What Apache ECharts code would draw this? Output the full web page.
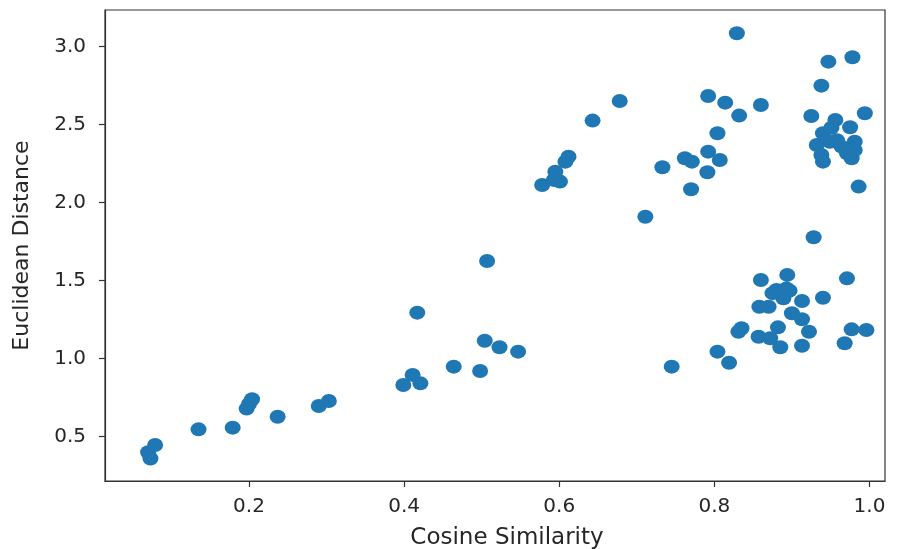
<!DOCTYPE html>
<html>
<head>
<meta charset="utf-8">
<script src="https://cdn.jsdelivr.net/npm/echarts@6/dist/echarts.min.js"></script>
<style>
  html, body { margin: 0; padding: 0; background: #fff; }
  #main { width: 900px; height: 549px; }
</style>
</head>
<body>
<div id="main"></div>
<script>
// cosine similarity (x) and euclidean distance (y)
var cosineSim = [
  0.070, 0.073, 0.079, 0.135, 0.179, 0.197, 0.200, 0.204, 0.237, 0.290,
  0.303, 0.399, 0.411, 0.421, 0.417, 0.464, 0.498, 0.504, 0.507, 0.523,
  0.547, 0.578, 0.593, 0.601, 0.595, 0.608, 0.612, 0.643, 0.678, 0.711,
  0.733, 0.745, 0.762, 0.771, 0.770, 0.792, 0.814, 0.832, 0.860, 0.804,
  0.792, 0.807, 0.791, 0.829, 0.947, 0.978, 0.938, 0.925, 0.994, 0.956,
  0.975, 0.940, 0.951, 0.932, 0.958, 0.964, 0.981, 0.971, 0.938, 0.940,
  0.977, 0.986, 0.949, 0.981, 0.928, 0.971, 0.860, 0.894, 0.880, 0.897,
  0.889, 0.913, 0.940, 0.858, 0.870, 0.900, 0.913, 0.835, 0.831, 0.882,
  0.922, 0.857, 0.872, 0.885, 0.913, 0.977, 0.996, 0.968, 0.804, 0.819,
  0.875, 0.893
];
var euclidDist = [
  0.400, 0.360, 0.447, 0.547, 0.558, 0.680, 0.710, 0.740, 0.628, 0.697,
  0.729, 0.831, 0.896, 0.842, 1.295, 0.949, 0.921, 1.115, 1.626, 1.073,
  1.045, 2.113, 2.146, 2.135, 2.199, 2.263, 2.295, 2.526, 2.652, 1.910,
  2.227, 0.949, 2.285, 2.263, 2.086, 2.684, 2.641, 2.558, 2.626, 2.445,
  2.327, 2.274, 2.195, 3.086, 2.904, 2.932, 2.750, 2.556, 2.573, 2.530,
  2.483, 2.445, 2.480, 2.370, 2.400, 2.359, 2.391, 2.317, 2.306, 2.263,
  2.285, 2.103, 2.390, 2.338, 1.778, 1.515, 1.504, 1.537, 1.440, 1.436,
  1.387, 1.370, 1.391, 1.333, 1.333, 1.291, 1.253, 1.195, 1.173, 1.201,
  1.173, 1.141, 1.131, 1.073, 1.083, 1.188, 1.184, 1.099, 1.045, 0.974,
  1.420, 1.450
];
var xTicks = [0.2, 0.4, 0.6, 0.8, 1.0];
var yTicks = [0.5, 1.0, 1.5, 2.0, 2.5, 3.0];

var points = cosineSim.map(function (x, i) { return [x, euclidDist[i]]; });

var textColor = '#262626';
var lineColor = '#333';

var myChart = echarts.init(document.getElementById('main'), null, { renderer: 'canvas' });
myChart.setOption({
  animation: false,
  backgroundColor: '#fff',
  grid: {
    left: 105, right: 15, top: 10, bottom: 68,
    outerBoundsMode: 'none',
    containLabel: false,
    show: true, borderColor: lineColor, borderWidth: 1.2, backgroundColor: '#fff'
  },
  xAxis: {
    type: 'value',
    min: 0.0144, max: 1.02,
    name: 'Cosine Similarity',
    nameLocation: 'middle',
    nameGap: 46,
    nameTextStyle: { fontFamily: 'DejaVu Sans', fontSize: 23, color: textColor, padding: [0, 0, 0, 24] },
    splitLine: { show: false },
    axisLine: { show: true, lineStyle: { color: lineColor, width: 1.2 } },
    axisTick: { show: true, inside: false, length: 6, lineStyle: { color: lineColor, width: 1.2 }, customValues: xTicks },
    axisLabel: {
      customValues: xTicks, margin: 16,
      fontFamily: 'DejaVu Sans', fontSize: 20, color: textColor,
      formatter: function (v) { return v.toFixed(1); }
    }
  },
  yAxis: {
    type: 'value',
    min: 0.216, max: 3.235,
    name: 'Euclidean Distance',
    nameLocation: 'middle',
    nameGap: 72,
    nameRotate: 90,
    nameTextStyle: { fontFamily: 'DejaVu Sans', fontSize: 22, color: textColor },
    splitLine: { show: false },
    axisLine: { show: true, lineStyle: { color: lineColor, width: 1.2 } },
    axisTick: { show: true, inside: false, length: 6, lineStyle: { color: lineColor, width: 1.2 }, customValues: yTicks },
    axisLabel: {
      customValues: yTicks, margin: 19,
      fontFamily: 'DejaVu Sans', fontSize: 20, color: textColor,
      formatter: function (v) { return v.toFixed(1); }
    }
  },
  series: [{
    type: 'scatter',
    data: points,
    symbol: 'circle',
    symbolSize: [16, 14],
    itemStyle: { color: '#1f77b4', opacity: 1 }
  }]
});
</script>
</body>
</html>
